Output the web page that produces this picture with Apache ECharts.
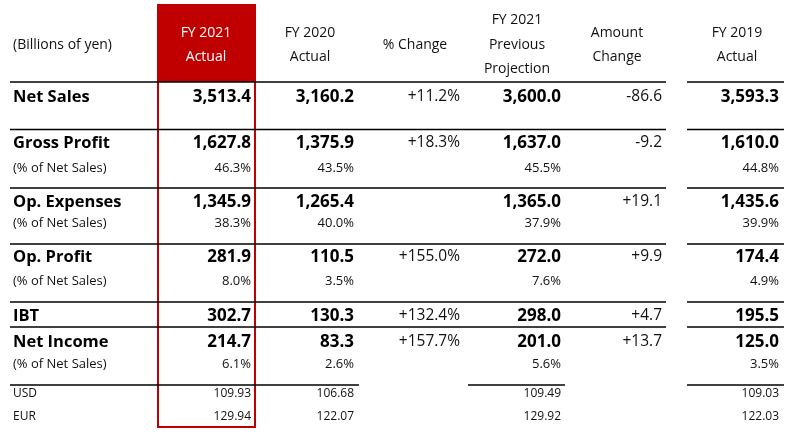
<!DOCTYPE html>
<html><head><meta charset="utf-8">
<script src="https://cdn.jsdelivr.net/npm/echarts@6/dist/echarts.min.js"></script>
<style>html,body{margin:0;padding:0;background:#fff}#c{width:800px;height:442px}</style>
</head><body><div id="c"></div>
<script>
// ---- data ----
const unitLabel = '(Billions of yen)';
const columnHeaders = ['FY 2021\nActual', 'FY 2020\nActual', '% Change', 'FY 2021\nPrevious\nProjection', 'Amount\nChange', 'FY 2019\nActual'];
const rowLabels = ['Net Sales', 'Gross Profit', '(% of Net Sales)', 'Op. Expenses', '(% of Net Sales)', 'Op. Profit', '(% of Net Sales)', 'IBT', 'Net Income', '(% of Net Sales)', 'USD', 'EUR'];
const fy2021Actual   = ['3,513.4', '1,627.8', '46.3%', '1,345.9', '38.3%', '281.9', '8.0%', '302.7', '214.7', '6.1%', '109.93', '129.94'];
const fy2020Actual   = ['3,160.2', '1,375.9', '43.5%', '1,265.4', '40.0%', '110.5', '3.5%', '130.3', '83.3', '2.6%', '106.68', '122.07'];
const pctChange      = ['+11.2%', '+18.3%', '', '', '', '+155.0%', '', '+132.4%', '+157.7%', '', '', ''];
const fy2021Previous = ['3,600.0', '1,637.0', '45.5%', '1,365.0', '37.9%', '272.0', '7.6%', '298.0', '201.0', '5.6%', '109.49', '129.92'];
const amountChange   = ['-86.6', '-9.2', '', '+19.1', '', '+9.9', '', '+4.7', '+13.7', '', '', ''];
const fy2019Actual   = ['3,593.3', '1,610.0', '44.8%', '1,435.6', '39.9%', '174.4', '4.9%', '195.5', '125.0', '3.5%', '109.03', '122.03'];

// ---- layout & style (not data) ----
const rowKinds = ['main', 'main', 'pct', 'main', 'pct', 'main', 'pct', 'main', 'main', 'pct', 'fx', 'fx'];
const FAM = '"Open Sans", "Noto Sans", sans-serif';
const L = {
  labelX: 13,
  colRight: [251, 354, 460, 561, 662, 779],
  colCenter: [206, 310, 415, 517, 617, 737],
  rowY: [97, 143, 168, 202, 223, 257, 281, 316, 342, 364, 394, 417],
  headerMid: 45, headerGap: 24.5,
  rules: [82, 129.5, 188, 244, 302, 327],
  ruleSegs: [[10, 666], [687, 784]],
  lastRule: 385,
  lastSegs: [[10, 359], [468, 565], [687, 784]],
  box: { x0: 158, x1: 255, y0: 5, yFill: 82, y1: 427 }
};
const boldCols = [true, true, false, true, false, true];
const fonts = {
  mainLabel: 'bold 16.5px ' + FAM,
  mainBold: 'bold 17px ' + FAM,
  mainNormal: '15.5px ' + FAM,
  pct: '13px ' + FAM,
  fx: '12px ' + FAM,
  header: '14px ' + FAM
};

// ---- build cells ----
const valueCols = [fy2021Actual, fy2020Actual, pctChange, fy2021Previous, amountChange, fy2019Actual];
const cells = [];
cells.push({ x: L.labelX, y: L.headerMid, text: unitLabel, font: fonts.header, align: 'left', color: '#111' });
columnHeaders.forEach((h, c) => {
  const lines = h.split('\n');
  lines.forEach((t, k) => {
    cells.push({
      x: L.colCenter[c],
      y: L.headerMid + (k - (lines.length - 1) / 2) * L.headerGap,
      text: t, font: fonts.header, align: 'center', color: c === 0 ? '#fff' : '#111'
    });
  });
});
rowLabels.forEach((lab, r) => {
  const kind = rowKinds[r];
  cells.push({ x: L.labelX, y: L.rowY[r], text: lab,
    font: kind === 'main' ? fonts.mainLabel : kind === 'pct' ? fonts.pct : fonts.fx,
    align: 'left', color: kind === 'main' ? '#000' : '#111' });
  valueCols.forEach((col, c) => {
    const t = col[r];
    if (!t) return;
    let font;
    if (kind === 'main') font = boldCols[c] ? fonts.mainBold : fonts.mainNormal;
    else font = kind === 'pct' ? fonts.pct : fonts.fx;
    cells.push({ x: L.colRight[c], y: L.rowY[r], text: t, font, align: 'right', color: (kind === 'main' && boldCols[c]) ? '#000' : '#111' });
  });
});

const rules = [];
L.rules.forEach(y => L.ruleSegs.forEach(s => rules.push([s[0], s[1], y])));
L.lastSegs.forEach(s => rules.push([s[0], s[1], L.lastRule]));

const chart = echarts.init(document.getElementById('c'), null, { renderer: 'canvas' });
chart.setOption({
  animation: false,
  backgroundColor: '#fff',
  grid: { left: 0, right: 0, top: 0, bottom: 0 },
  xAxis: { type: 'value', min: 0, max: 800, show: false },
  yAxis: { type: 'value', min: 0, max: 442, inverse: true, show: false },
  series: [
    {
      type: 'custom', silent: true, z: 1,
      data: [[L.box.x0, L.box.y0, L.box.x1, L.box.yFill, L.box.y1]],
      renderItem: function (params, api) {
        const p0 = api.coord([api.value(0), api.value(1)]);
        const p1 = api.coord([api.value(2), api.value(3)]);
        const p2 = api.coord([api.value(2), api.value(4)]);
        return {
          type: 'group', children: [
            { type: 'rect', shape: { x: p0[0], y: p0[1], width: p1[0] - p0[0], height: p1[1] - p0[1] }, style: { fill: '#C00000' } },
            { type: 'rect', shape: { x: p0[0], y: p0[1], width: p2[0] - p0[0], height: p2[1] - p0[1] }, style: { fill: 'none', stroke: '#C00000', lineWidth: 2 } }
          ]
        };
      }
    },
    {
      type: 'custom', silent: true, z: 2,
      data: rules,
      renderItem: function (params, api) {
        const a = api.coord([api.value(0), api.value(2)]);
        const b = api.coord([api.value(1), api.value(2)]);
        return { type: 'line', shape: { x1: a[0], y1: a[1], x2: b[0], y2: b[1] }, style: { stroke: '#000', lineWidth: 1.6 } };
      }
    },
    {
      type: 'custom', silent: true, z: 3,
      data: cells.map(c => [c.x, c.y]),
      renderItem: function (params, api) {
        const c = cells[params.dataIndex];
        const p = api.coord([api.value(0), api.value(1)]);
        return {
          type: 'text', x: p[0], y: p[1],
          style: { text: c.text, font: c.font, fill: c.color, align: c.align, verticalAlign: 'middle', textAlign: c.align, textVerticalAlign: 'middle' }
        };
      }
    }
  ]
});
</script>
</body></html>
